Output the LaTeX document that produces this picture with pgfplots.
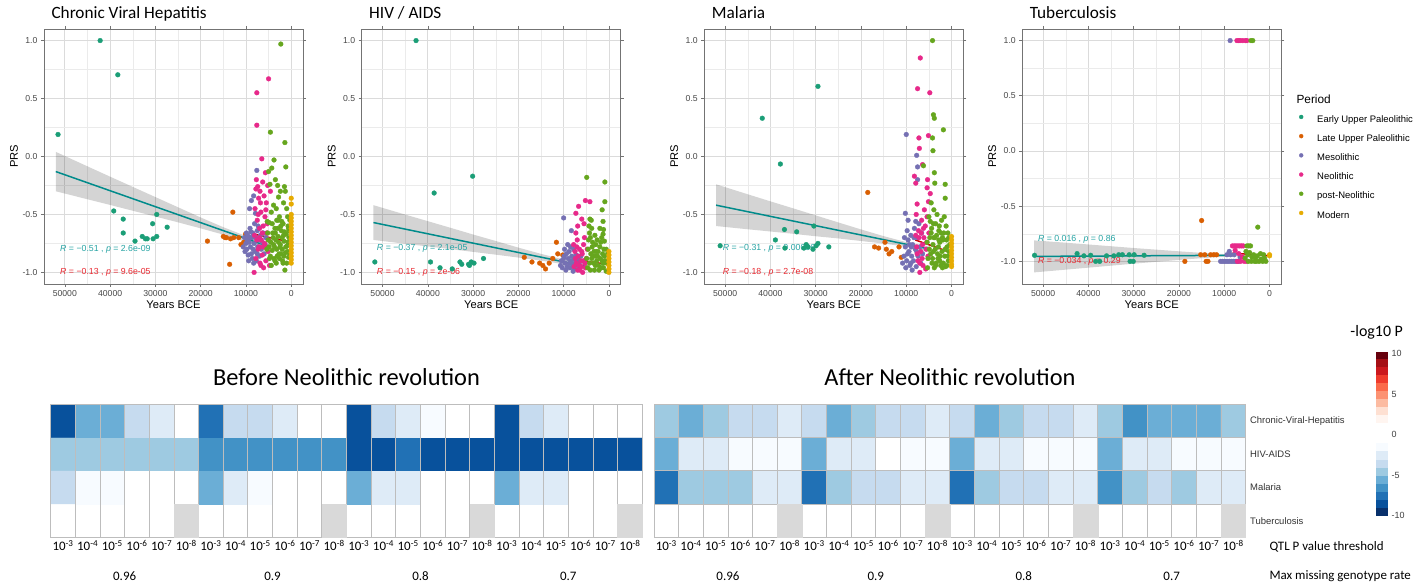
\documentclass[border=0pt]{standalone}
\usepackage{fontspec}
\setmainfont{Liberation Sans}
\newfontfamily\cali{Carlito}
\usepackage{pgfplots}
\pgfplotsset{compat=1.18}

\definecolor{eup}{HTML}{1B9E77}
\definecolor{lup}{HTML}{D95F02}
\definecolor{meso}{HTML}{7570B3}
\definecolor{neo}{HTML}{E7298A}
\definecolor{post}{HTML}{66A61E}
\definecolor{modern}{HTML}{E6AB02}
\definecolor{fitteal}{HTML}{008B8B}
\definecolor{fitred}{HTML}{CD0000}
\definecolor{txtteal}{HTML}{26A3A3}
\definecolor{txtred}{HTML}{E8262E}
\definecolor{cellgray}{HTML}{BDBDBD}
\definecolor{nagray}{HTML}{D9D9D9}

\newcommand{\fs}[1]{\fontsize{#1}{#1}\selectfont}
\newcommand{\qt}[1]{10\textsuperscript{-#1}}

\pgfplotsset{
  pt/.style={only marks, mark=*, mark size=2.4bp, color=#1, mark options={draw=#1, fill=#1, line width=0.3bp, solid}},
  band/.style={forget plot, fill=black, fill opacity=0.17, draw=none},
  fitA/.style={forget plot, color=fitteal, line width=1.5bp},
  fitB/.style={forget plot, color=fitred, line width=1.5bp},
  prs/.style={
    scale only axis, width=259bp, height=255bp,
    x dir=reverse, xmin=-2600, xmax=54600, ymin=-1.1, ymax=1.1,
    scaled x ticks=false, scaled y ticks=false,
    xtick={0,10000,20000,30000,40000,50000},
    xticklabels={0,10000,20000,30000,40000,50000},
    minor xtick={5000,15000,25000,35000,45000},
    ytick={-1,-0.5,0,0.5,1},
    yticklabels={-1.0,-0.5,0.0,0.5,1.0},
    minor ytick={-0.75,-0.25,0.25,0.75},
    grid=both,
    major grid style={draw=black!14, line width=0.7bp},
    minor grid style={draw=black!8, line width=0.4bp},
    axis line style={draw=black!55, line width=0.7bp},
    tick align=outside, major tick length=3bp, minor tick length=0pt,
    tick style={draw=black!55, line width=0.6bp},
    tick label style={font=\fs{8.7}, text=black!72},
    xlabel={Years BCE}, ylabel={PRS},
    label style={font=\fs{11.2}},
    xlabel style={at={([yshift=-21bp]rel axis cs:0.5,0)}, anchor=center},
    ylabel style={at={([xshift=-30bp]rel axis cs:0,0.5)}, anchor=center},
    title style={at={(rel axis cs:0,1)}, anchor=base west, xshift=4bp, yshift=5bp, font=\cali\fs{17.3}},
  },
  hm/.style={
    scale only axis, width=591.6bp, height=133.3bp,
    xmin=-0.5, xmax=23.5, ymin=-0.5, ymax=3.5,
    xtick={0,...,23},
    xticklabels={\qt3,\qt4,\qt5,\qt6,\qt7,\qt8,\qt3,\qt4,\qt5,\qt6,\qt7,\qt8,\qt3,\qt4,\qt5,\qt6,\qt7,\qt8,\qt3,\qt4,\qt5,\qt6,\qt7,\qt8},
    minor xtick={-0.5,0.5,...,23.5}, minor ytick={-0.5,0.5,...,3.5},
    grid=minor, minor grid style={draw=cellgray, line width=0.9bp},
    axis on top,
    axis line style={draw=cellgray, line width=0.9bp},
    major tick length=0pt, minor tick length=0pt,
    xticklabel style={font=\cali\fs{13}, anchor=base, yshift=-13.6bp},
    colormap={blues}{rgb255=(8,48,107) rgb255=(8,48,107) rgb255=(8,81,156) rgb255=(33,113,181) rgb255=(66,146,198) rgb255=(107,174,214) rgb255=(158,202,225) rgb255=(198,219,239) rgb255=(222,235,247) rgb255=(247,251,255) rgb255=(255,255,255)},
    point meta min=-10, point meta max=0,
  },
}

\begin{document}
\begin{tikzpicture}
\useasboundingbox (0,0) rectangle (1426bp,585bp);

% ---------------- Chronic Viral Hepatitis
\begin{axis}[prs, at={(44bp,301bp)}, anchor=south west, title={Chronic Viral Hepatitis}]
\addplot[pt=eup] coordinates {(51500,0.19) (42200,1.0) (38300,0.705) (39200,-0.47) (37100,-0.54) (37100,-0.66) (34500,-0.73) (32900,-0.69) (32200,-0.71) (31800,-0.71) (30600,-0.58) (30500,-0.71) (29700,-0.50) (29700,-0.69) (27400,-0.61)};
\addplot[pt=lup] coordinates {(18500,-0.73) (15000,-0.69) (14600,-0.70) (14300,-0.70) (13600,-0.93) (13400,-0.71) (12900,-0.48) (12700,-0.70) (11600,-0.70) (11100,-0.76) (10500,-0.74) (10100,-0.67) (9800,-0.72)};
\addplot[pt=meso] coordinates {(10300,-0.70) (10000,-0.75) (9800,-0.80) (9600,-0.68) (9500,-0.85) (9300,-0.74) (9200,-0.45) (9100,-0.62) (9000,-0.78) (8800,-0.38) (8700,-0.70) (8600,-0.88) (8500,-0.66) (8300,-0.34) (8200,-0.75) (8100,-0.58) (8000,-0.82) (7900,-0.49) (7800,-0.70) (7700,-0.90) (7600,-0.12) (7500,-0.64) (7400,-0.78) (7200,-0.72) (7000,-0.86) (6800,-0.68) (6600,-0.80) (6400,-0.74) (6200,-0.66) (6000,-0.84) (5800,-0.76) (5600,-0.70) (9700,-0.72) (8900,-0.65) (8400,-0.80) (7300,-0.60) (10600,-0.78) (9900,-0.66) (9400,-0.90) (8800,-0.84) (8300,-0.92) (7500,-0.84) (9000,-0.70) (10200,-0.82)};
\addplot[pt=neo] coordinates {(5000,0.67) (7600,0.55) (7600,0.27) (6500,-0.02) (8200,-1.0) (7700,-0.20) (7400,-0.26) (6900,-0.30) (7800,-0.28) (6300,-0.22) (5200,-0.25) (6000,-0.34) (7200,-0.36) (5500,-0.40) (8000,-0.45) (6700,-0.48) (5800,-0.52) (7500,-0.55) (6200,-0.60) (7000,-0.62) (5400,-0.66) (8100,-0.68) (6600,-0.72) (5900,-0.75) (7300,-0.80) (5100,-0.82) (6400,-0.85) (7800,-0.88) (5600,-0.90) (6900,-0.92) (4800,-0.94) (6100,-0.96) (7100,-0.78) (5300,-0.58) (4600,-0.30) (5700,-0.14) (6800,-0.40) (5600,-0.46) (7300,-0.50) (6400,-0.66) (5500,-0.78) (6700,-0.94) (7600,-0.72) (5000,-0.72) (6200,-0.78) (7000,-0.70)};
\addplot[pt=post] coordinates {(2300,0.97) (4600,0.21) (1400,0.12) (3800,-0.03) (1200,-0.09) (1400,-0.98) (5000,-0.13) (4300,-0.10) (3500,-0.20) (4700,-0.24) (1500,-0.26) (1300,-0.30) (2800,-0.35) (3900,-0.42) (1000,-0.45) (4400,-0.48) (2600,-0.52) (3200,-0.55) (4900,-0.57) (1800,-0.58) (700,-0.60) (3600,-0.62) (2200,-0.64) (4100,-0.66) (1100,-0.67) (2900,-0.69) (500,-0.70) (3400,-0.72) (1600,-0.73) (4500,-0.74) (2400,-0.76) (900,-0.77) (3700,-0.78) (2000,-0.80) (4200,-0.81) (1300,-0.83) (2700,-0.84) (3100,-0.86) (600,-0.87) (4800,-0.88) (1900,-0.90) (3300,-0.92) (2500,-0.78) (1700,-0.68) (3000,-0.62) (800,-0.82) (4000,-0.70) (2100,-0.56) (1000,-0.92) (5200,-0.66) (5400,-0.80) (3800,-0.88) (300,-0.55) (600,-0.62) (1500,-0.65) (2300,-0.60) (2800,-0.74) (3500,-0.66) (4200,-0.58) (4600,-0.86) (5100,-0.72) (3900,-0.76) (1200,-0.78) (2000,-0.70) (2600,-0.88) (3600,-0.90) (4400,-0.94) (1600,-0.86) (700,-0.74) (3200,-0.80) (2300,-0.84) (4900,-0.78) (400,-0.84) (1800,-0.92) (2900,-0.55) (3300,-0.45) (1700,-0.40) (2400,-0.30) (3000,-0.25) (800,-0.52) (500,-0.64) (5300,-0.56)};
\addplot[pt=modern] coordinates {(0,-0.36) (0,-0.41) (0,-0.50) (0,-0.53) (0,-0.56) (0,-0.59) (0,-0.62) (0,-0.65) (0,-0.68) (0,-0.71) (0,-0.74) (0,-0.77) (0,-0.80) (0,-0.83) (0,-0.86) (0,-0.89) (0,-0.92)};
\addplot[band] coordinates {(52000,0.04) (45000,-0.085) (40000,-0.174) (35000,-0.262) (30000,-0.350) (25000,-0.438) (20000,-0.526) (15000,-0.610) (10000,-0.686) (5000,-0.748) (5000,-0.812) (10000,-0.736) (15000,-0.674) (20000,-0.620) (25000,-0.568) (30000,-0.518) (35000,-0.468) (40000,-0.418) (45000,-0.369) (52000,-0.30)} -- cycle;
\addplot[fitA] coordinates {(52000,-0.13) (4800,-0.78)};
\addplot[fitB] coordinates {(8200,-0.67) (0,-0.74)};
\node[anchor=west, text=txtteal, font=\fs{8.8}] at (axis cs:51800,-0.80) {\textit{R} = −0.51 , \textit{p} = 2.6e-09};
\node[anchor=west, text=txtred, font=\fs{8.8}] at (axis cs:51800,-1.0) {\textit{R} = −0.13 , \textit{p} = 9.6e-05};
\end{axis}

% ---------------- HIV / AIDS
\begin{axis}[prs, at={(361.7bp,301bp)}, anchor=south west, title={HIV / AIDS}]
\addplot[pt=eup] coordinates {(42600,1.0) (38600,-0.315) (30100,-0.17) (51700,-0.91) (39400,-0.91) (37300,-0.96) (34600,-0.97) (32900,-0.91) (32500,-0.93) (30800,-0.94) (30400,-0.91) (29800,-0.92) (27700,-0.88) (31000,-0.93)};
\addplot[pt=lup] coordinates {(18700,-0.87) (17000,-0.91) (15300,-0.92) (14600,-0.94) (14000,-0.97) (13200,-0.92) (11600,-0.74) (11300,-0.84) (10200,-0.85) (12400,-0.88)};
\addplot[pt=meso] coordinates {(10000,-0.53) (8300,-0.64) (10500,-0.90) (10000,-0.88) (9700,-0.92) (9400,-0.84) (9200,-0.95) (9000,-0.88) (8800,-0.82) (8600,-0.96) (8400,-0.90) (8200,-0.86) (8000,-0.93) (7800,-0.80) (7600,-0.97) (7400,-0.90) (7200,-0.85) (7000,-0.94) (6800,-0.88) (6600,-0.92) (6400,-0.96) (6200,-0.86) (9800,-0.80) (9100,-0.76) (8500,-0.78) (10700,-0.94) (7900,-0.99) (10300,-0.96) (9500,-0.98) (8700,-0.92) (7700,-0.88) (9900,-0.86)};
\addplot[pt=neo] coordinates {(5200,-0.38) (4200,-0.39) (6700,-0.43) (7300,-0.49) (6000,-0.54) (7300,-0.66) (6900,-0.60) (5500,-0.58) (7800,-0.76) (7500,-0.82) (7100,-0.78) (6800,-0.86) (6500,-0.80) (6200,-0.90) (5900,-0.84) (5600,-0.76) (5300,-0.92) (5000,-0.88) (7700,-0.95) (6400,-0.98) (5800,-1.0) (7000,-0.72) (5400,-0.70) (6100,-0.95) (4800,-0.80) (7400,-0.88) (6600,-0.94) (5600,-0.90) (7200,-0.92) (6000,-0.82) (5200,-0.96) (6900,-0.98)};
\addplot[pt=post] coordinates {(4900,-0.18) (900,-0.22) (900,-0.39) (4200,-0.54) (1500,-0.46) (3900,-0.55) (4400,-0.60) (1300,-0.56) (1200,-0.63) (1300,-0.67) (4100,-0.70) (3600,-0.74) (1000,-0.73) (2900,-0.76) (2000,-0.78) (4600,-0.80) (3300,-0.82) (1400,-0.84) (2500,-0.86) (3800,-0.88) (800,-0.90) (4300,-0.92) (3000,-0.94) (1700,-0.96) (2200,-0.98) (600,-0.99) (4700,-0.96) (3500,-0.86) (2700,-0.90) (1100,-0.80) (1900,-0.88) (4000,-0.84) (3200,-0.98) (500,-0.92) (2400,-0.82) (1500,-0.90) (4500,-0.72) (3700,-0.78) (2800,-0.82) (1800,-0.74) (1000,-0.86) (300,-0.84) (4900,-0.88) (3400,-0.92) (2300,-0.94) (1200,-0.96) (4100,-0.98) (2600,-0.72) (600,-0.80) (1600,-0.70) (3100,-0.68) (4300,-0.66) (2000,-0.62) (3800,-0.62) (1300,-0.92) (2900,-0.86)};
\addplot[pt=modern] coordinates {(0,-0.82) (0,-0.85) (0,-0.88) (0,-0.91) (0,-0.94) (0,-0.97) (0,-1.0)};
\addplot[band] coordinates {(52000,-0.42) (45000,-0.501) (40000,-0.558) (35000,-0.615) (30000,-0.673) (25000,-0.729) (20000,-0.786) (15000,-0.840) (10000,-0.889) (5000,-0.926) (5000,-0.974) (10000,-0.929) (15000,-0.898) (20000,-0.872) (25000,-0.847) (30000,-0.823) (35000,-0.799) (40000,-0.776) (45000,-0.753) (52000,-0.72)} -- cycle;
\addplot[fitA] coordinates {(52000,-0.57) (4900,-0.95)};
\addplot[fitB] coordinates {(8200,-0.89) (0,-0.93)};
\node[anchor=west, text=txtteal, font=\fs{8.8}] at (axis cs:52000,-0.795) {\textit{R} = −0.37 , \textit{p} = 2.1e-05};
\node[anchor=west, text=txtred, font=\fs{8.8}] at (axis cs:52000,-1.0) {\textit{R} = −0.15 , \textit{p} = 2e-06};
\end{axis}

% ---------------- Malaria
\begin{axis}[prs, at={(704.3bp,301bp)}, anchor=south west, title={Malaria}]
\addplot[pt=eup] coordinates {(51100,-0.77) (41800,0.33) (37800,-0.065) (29500,0.605) (38900,-0.72) (36900,-0.63) (34200,-0.65) (36800,-0.79) (32600,-0.79) (32100,-0.76) (31700,-0.78) (30600,-0.80) (29900,-0.77) (29500,-0.75) (30400,-0.60) (27100,-0.78)};
\addplot[pt=lup] coordinates {(18500,-0.31) (17000,-0.78) (16100,-0.79) (14700,-0.74) (14400,-0.80) (13800,-0.84) (13200,-0.82) (11600,-0.78) (11100,-0.87)};
\addplot[pt=meso] coordinates {(10000,0.19) (7700,0.01) (7500,-0.09) (7500,-0.20) (10200,-0.49) (9600,-0.55) (10500,-0.86) (10200,-0.78) (9900,-0.90) (9600,-0.72) (9400,-0.82) (9200,-0.94) (9000,-0.68) (8800,-0.86) (8600,-0.76) (8400,-0.90) (8200,-0.62) (8000,-0.80) (7800,-0.95) (7600,-0.70) (7400,-0.86) (7200,-0.58) (7000,-0.78) (6800,-0.92) (6600,-0.66) (6400,-0.84) (9800,-0.64) (8700,-0.98) (7900,-0.56) (9300,-0.76) (10800,-0.92) (10400,-0.70) (9700,-0.84) (9000,-0.92) (8300,-0.70) (7700,-0.82) (8900,-0.78) (10100,-0.96)};
\addplot[pt=neo] coordinates {(6900,0.85) (7500,0.585) (4800,0.55) (5100,0.18) (7200,0.16) (7100,0.07) (8200,-0.17) (7900,-0.23) (6400,-0.07) (5300,-0.20) (5400,-0.27) (4700,-0.32) (5100,-0.39) (7600,-0.41) (7000,-1.0) (7800,-0.50) (6600,-0.55) (5800,-0.60) (7300,-0.64) (6100,-0.70) (5500,-0.74) (7700,-0.78) (6800,-0.82) (5200,-0.86) (7400,-0.90) (6300,-0.94) (5700,-0.97) (7900,-0.68) (6000,-0.46) (5000,-0.66) (6500,-0.88) (7200,-0.70) (6400,-0.76) (5600,-0.80) (7000,-0.92) (6200,-0.62) (5400,-0.52) (7600,-0.84) (6700,-0.66)};
\addplot[pt=post] coordinates {(4200,1.0) (4000,0.36) (3800,0.33) (1800,0.23) (4200,0.16) (4100,0.05) (6200,-0.08) (3800,-0.14) (3700,-0.23) (1400,-0.24) (1400,-0.36) (4500,-0.40) (3900,-0.46) (5000,-0.52) (2200,-0.55) (3500,-0.58) (1200,-0.60) (4400,-0.62) (2800,-0.64) (800,-0.66) (3300,-0.68) (4800,-0.70) (1900,-0.72) (2600,-0.74) (4100,-0.76) (1000,-0.78) (3600,-0.80) (2100,-0.82) (4600,-0.84) (1500,-0.86) (3000,-0.88) (700,-0.90) (4300,-0.92) (2400,-0.94) (3800,-0.96) (1300,-0.95) (5200,-0.88) (2900,-0.78) (1700,-0.66) (3400,-0.92) (600,-0.82) (4000,-0.58) (2000,-0.96) (5400,-0.74) (1100,-0.72) (3700,-0.70) (2500,-0.86) (4700,-0.56) (3200,-0.50) (1600,-0.52) (2700,-0.60) (600,-0.70) (4500,-0.66) (3900,-0.70) (2300,-0.66) (1400,-0.80) (4900,-0.80) (3100,-0.84) (800,-0.86) (2600,-0.90) (1800,-0.92) (4200,-0.88) (3500,-0.94) (1000,-0.94) (5300,-0.96) (2000,-0.70) (400,-0.76) (4000,-0.82) (2800,-0.72)};
\addplot[pt=modern] coordinates {(0,-0.69) (0,-0.72) (0,-0.75) (0,-0.78) (0,-0.81) (0,-0.84) (0,-0.87) (0,-0.90) (0,-0.93) (0,-0.95)};
\addplot[band] coordinates {(52000,-0.24) (45000,-0.326) (40000,-0.387) (35000,-0.447) (30000,-0.508) (25000,-0.569) (20000,-0.629) (15000,-0.687) (10000,-0.739) (5000,-0.775) (5000,-0.825) (10000,-0.779) (15000,-0.751) (20000,-0.729) (25000,-0.707) (30000,-0.688) (35000,-0.667) (40000,-0.647) (45000,-0.628) (52000,-0.60)} -- cycle;
\addplot[fitA] coordinates {(52000,-0.42) (4700,-0.80)};
\addplot[fitB] coordinates {(8000,-0.72) (0,-0.83)};
\node[anchor=west, text=txtteal, font=\fs{8.8}] at (axis cs:51300,-0.79) {\textit{R} = −0.31 , \textit{p} = 0.00036};
\node[anchor=west, text=txtred, font=\fs{8.8}] at (axis cs:51300,-1.0) {\textit{R} = −0.18 , \textit{p} = 2.7e-08};
\end{axis}

% ---------------- Tuberculosis (with legend)
\begin{axis}[prs, at={(1022.3bp,301bp)}, anchor=south west, title={Tuberculosis},
  ymin=-1.205, ymax=1.105,
  legend cell align=left,
  legend image code/.code={\draw[#1, mark size=2bp] plot coordinates {(0bp,2.5bp)};},
  legend style={at={(rel axis cs:1,1)}, anchor=north west, xshift=17.7bp, yshift=-84bp,
    draw=none, fill=none, inner sep=0pt, font=\fs{9.5}, row sep=6.7bp,
    nodes={text height=7bp, text depth=1.5bp, inner sep=2bp},
    /tikz/every odd column/.append style={column sep=12bp}}]
\addplot[pt=eup] coordinates {(51900,-0.945) (42500,-0.93) (39500,-0.945) (38400,-1.0) (37500,-1.0) (34400,-0.95) (33300,-0.94) (32500,-0.94) (31000,-0.94) (30800,-1.0) (30100,-1.0) (29900,-0.94) (27700,-0.945) (36000,-0.95) (41000,-0.95)};
\addplot[pt=lup] coordinates {(15000,-0.63) (18700,-1.0) (15200,-0.94) (14300,-0.94) (14000,-1.0) (13600,-1.0) (13000,-0.94) (11700,-0.94) (12300,-0.94)};
\addplot[pt=meso] coordinates {(8700,1.0) (10800,-1.0) (10400,-1.0) (10000,-1.0) (9600,-1.0) (9200,-1.0) (8800,-1.0) (8400,-1.0) (8000,-1.0) (7600,-1.0) (7200,-1.0) (6800,-1.0) (9400,-0.94) (8600,-0.94) (7800,-0.94) (8900,-0.91) (6500,-0.96)};
\addplot[pt=neo] coordinates {(7200,1.0) (6800,1.0) (6500,1.0) (5900,1.0) (5300,1.0) (5000,1.0) (8200,-0.86) (7800,-0.86) (7400,-0.86) (7000,-0.86) (6600,-0.86) (6200,-0.86) (5800,-0.86) (7600,-0.90) (6800,-0.93) (6000,-0.96) (7100,-1.0) (5600,-1.0) (5100,-1.0) (6400,-1.0)};
\addplot[pt=post] coordinates {(4100,1.0) (3700,1.0) (2600,-0.69) (5000,-0.86) (4600,-0.86) (4200,-0.86) (5200,-0.91) (4800,-0.94) (4400,-0.92) (3900,-0.96) (3500,-0.94) (3100,-0.97) (2700,-0.95) (2300,-1.0) (1900,-0.98) (1500,-1.0) (1100,-0.97) (800,-1.0) (4700,-1.0) (4000,-1.0) (3300,-1.0) (2000,-0.93) (1300,-0.94) (2900,-1.0) (5400,-0.97)};
\addplot[pt=modern] coordinates {(0,-0.94) (0,-0.95)};
\legend{Early Upper Paleolithic, Late Upper Paleolithic, Mesolithic, Neolithic, post-Neolithic, Modern}
\addplot[band] coordinates {(52000,-0.81) (45000,-0.831) (40000,-0.847) (35000,-0.863) (30000,-0.879) (25000,-0.894) (20000,-0.909) (15000,-0.923) (10000,-0.934) (8200,-0.931) (8200,-0.959) (10000,-0.958) (15000,-0.971) (20000,-0.987) (25000,-1.004) (30000,-1.021) (35000,-1.039) (40000,-1.057) (45000,-1.075) (52000,-1.10)} -- cycle;
\addplot[fitA] coordinates {(52000,-0.955) (8200,-0.945)};
\addplot[fitB] coordinates {(8200,-0.925) (0,-0.95)};
\node[anchor=west, text=txtteal, font=\fs{8.8}] at (axis cs:51900,-0.797) {\textit{R} = 0.016 , \textit{p} = 0.86};
\node[anchor=west, text=txtred, font=\fs{8.8}] at (axis cs:51900,-1.0) {\textit{R} = −0.034 , \textit{p} = 0.29};
\end{axis}
\node[anchor=west, font=\fs{11.9}] at (1293bp,486bp) {Period};

% ---------------- Heatmaps: -log10 P (negative = blue)
\begin{axis}[hm, at={(50.7bp,47.7bp)}, anchor=south west, ytick=\empty]
% rows from bottom: Tuberculosis, Malaria, HIV-AIDS, Chronic-Viral-Hepatitis
\addplot[matrix plot*, mesh/cols=24, point meta=explicit]
  table[row sep=\\, x expr={mod(\coordindex,24)}, y expr={floor(\coordindex/24)}, meta=v] {
v\\
0\\0\\0\\0\\0\\0\\0\\0\\0\\0\\0\\0\\0\\0\\0\\0\\0\\0\\0\\0\\0\\0\\0\\0\\
-3\\-1\\-1\\0\\0\\0\\-5\\-2\\-1\\0\\0\\0\\-5\\-2\\-2\\0\\0\\0\\-5\\-2\\-2\\0\\0\\0\\
-4\\-4\\-4\\-4\\-4\\-4\\-6\\-6\\-6\\-6\\-6\\-6\\-8\\-8\\-7\\-8\\-8\\-8\\-8\\-8\\-8\\-8\\-8\\-8\\
-8\\-5\\-5\\-3\\-2\\0\\-7\\-3\\-3\\-2\\0\\0\\-8\\-3\\-2\\-1\\0\\0\\-8\\-3\\-2\\0\\0\\0\\
};
% not available
\addplot[only marks, mark=square*, mark size=12.33bp, color=nagray, mark options={yscale=1.351}] coordinates {(5,0) (11,0) (17,0) (23,0)};
\end{axis}

\begin{axis}[hm, at={(654bp,47.7bp)}, anchor=south west,
  ytick={0,1,2,3}, yticklabels={Tuberculosis,Malaria,HIV-AIDS,Chronic-Viral-Hepatitis},
  yticklabel pos=right,
  yticklabel style={font=\fs{9.5}, text=black!80, anchor=west, xshift=1bp}]
\addplot[matrix plot*, mesh/cols=24, point meta=explicit]
  table[row sep=\\, x expr={mod(\coordindex,24)}, y expr={floor(\coordindex/24)}, meta=v] {
v\\
0\\0\\0\\0\\0\\0\\0\\0\\0\\0\\0\\0\\0\\0\\0\\0\\0\\0\\0\\0\\0\\0\\0\\0\\
-7\\-4\\-4\\-4\\-2\\-2\\-7\\-4\\-3\\-3\\-2\\-2\\-7\\-4\\-3\\-3\\-2\\-2\\-6\\-4\\-3\\-4\\-2\\-2\\
-5\\-2\\-2\\-1\\-1\\-1\\-5\\-2\\-2\\0\\-1\\-1\\-5\\-2\\-2\\-1\\-1\\-1\\-5\\-2\\-2\\-1\\-1\\-1\\
-4\\-5\\-4\\-3\\-3\\-2\\-3\\-5\\-4\\-3\\-3\\-2\\-3\\-5\\-4\\-3\\-3\\-2\\-4\\-6\\-5\\-5\\-5\\-4\\
};
\addplot[only marks, mark=square*, mark size=12.33bp, color=nagray, mark options={yscale=1.351}] coordinates {(5,0) (11,0) (17,0) (23,0)};
\end{axis}

\node[font=\cali\fs{24.5}] at (346.5bp,208.3bp) {Before Neolithic revolution};
\node[font=\cali\fs{24.5}] at (949.9bp,208.3bp) {After Neolithic revolution};
\node[anchor=west, font=\cali\fs{13}] at (1266bp,38bp) {QTL P value threshold};
\node[anchor=west, font=\cali\fs{13}] at (1266bp,9bp) {Max missing genotype rate};
\foreach \g/\xa in {0.96/124.65, 0.9/272.55, 0.8/420.45, 0.7/568.35} {
  \node[font=\cali\fs{13}] at (\xa bp,9bp) {\g};
  \node[font=\cali\fs{13}] at (\xa bp+603.3bp,9bp) {\g};
}
\node[font=\cali\fs{16}] at (1376.7bp,253bp) {-log10 P};

\begin{scope}[shift={(1367.7bp,69.3bp)}]
\pgfplotscolorbardrawstandalone[
  colormap={cbar}{rgb255(0pt)=(8,48,107) rgb255(100pt)=(8,81,156) rgb255(200pt)=(33,113,181) rgb255(300pt)=(66,146,198) rgb255(400pt)=(107,174,214) rgb255(500pt)=(158,202,225) rgb255(600pt)=(198,219,239) rgb255(700pt)=(222,235,247) rgb255(800pt)=(247,251,255) rgb255(900pt)=(255,255,255) rgb255(1155pt)=(255,245,240) rgb255(1252pt)=(254,224,210) rgb255(1349pt)=(252,187,161) rgb255(1447pt)=(252,146,114) rgb255(1544pt)=(251,106,74) rgb255(1641pt)=(239,59,44) rgb255(1738pt)=(203,24,29) rgb255(1836pt)=(165,15,21) rgb255(1933pt)=(103,0,13) rgb255(2030pt)=(103,0,13)},
  colormap access=piecewise constant,
  point meta min=-10, point meta max=10.3,
  colorbar style={at={(0,0)}, anchor=south west, width=11bp, height=164.4bp,
    ytick={-10,-5,0,5,10}, yticklabels={-10,-5,0,5,10},
    major tick length=0pt, axis line style={draw=none},
    yticklabel style={font=\fs{9}, text=black!75, xshift=1bp}}]
\end{scope}
\end{tikzpicture}
\end{document}
